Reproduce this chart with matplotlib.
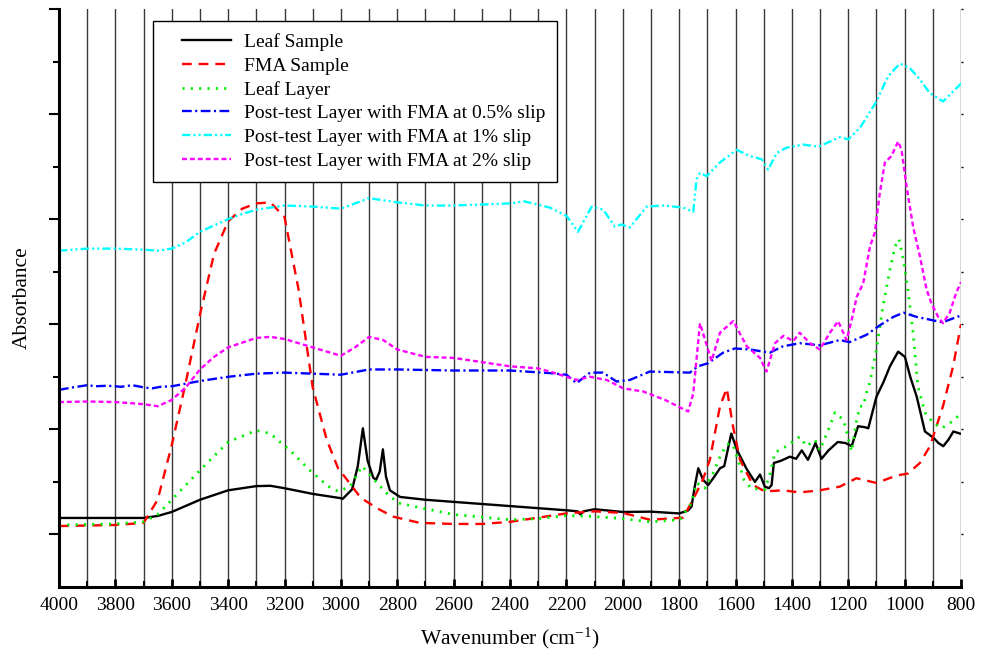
import matplotlib
matplotlib.use("Agg")
import matplotlib.pyplot as plt
from matplotlib.ticker import MultipleLocator, NullFormatter
from matplotlib.legend_handler import HandlerLine2D
from matplotlib.lines import Line2D

plt.rcParams['font.family'] = ['Liberation Serif', 'DejaVu Serif']
plt.rcParams['mathtext.default'] = 'regular'
plt.rcParams['lines.scale_dashes'] = False

# ---------------- data ----------------
leaf_x = [4000, 3900, 3800, 3700, 3650, 3600, 3500, 3400, 3300, 3250, 3200, 3100, 3000, 2993, 2960, 2940,
          2922, 2905, 2885, 2875, 2862, 2851, 2840, 2826, 2790, 2700, 2600, 2400, 2200, 2160, 2150, 2140,
          2100, 2000, 1900, 1800, 1769, 1756, 1745, 1732, 1715, 1697, 1675, 1655, 1640, 1615, 1594, 1560,
          1531, 1513, 1496, 1481, 1472, 1464, 1440, 1407, 1385, 1365, 1343, 1316, 1295, 1270, 1237, 1210,
          1188, 1165, 1140, 1129, 1100, 1075, 1052, 1023, 999, 980, 957, 928, 898, 880, 863, 845, 827, 804]
leaf_y = [0.657, 0.657, 0.657, 0.657, 0.676, 0.714, 0.83, 0.92, 0.96, 0.963, 0.94, 0.886, 0.845, 0.84, 0.93, 1.15,
          1.51, 1.2, 1.04, 1.02, 1.1, 1.31, 1.05, 0.92, 0.857, 0.83, 0.81, 0.77, 0.73, 0.72, 0.69, 0.72,
          0.74, 0.714, 0.717, 0.70, 0.727, 0.765, 0.95, 1.13, 1.02, 0.97, 1.05, 1.13, 1.15, 1.46, 1.30, 1.12,
          1.00, 1.07, 0.955, 0.94, 0.97, 1.18, 1.2, 1.24, 1.22, 1.30, 1.21, 1.37, 1.22, 1.3, 1.38, 1.37,
          1.34, 1.53, 1.52, 1.51, 1.81, 1.95, 2.10, 2.24, 2.19, 2.0, 1.81, 1.48, 1.42, 1.37, 1.34, 1.40, 1.48, 1.46]

fma_x = [4000, 3900, 3800, 3700, 3650, 3600, 3550, 3500, 3450, 3400, 3350, 3300, 3250, 3200, 3150, 3100,
         3050, 3010, 2978, 2930, 2872, 2815, 2720, 2600, 2500, 2400, 2300, 2200, 2100, 2000, 1903, 1786,
         1751, 1716, 1691, 1655, 1631, 1609, 1584, 1538, 1496, 1432, 1372, 1301, 1230, 1171, 1100, 1029,
         988, 946, 910, 864, 828, 800]
fma_y = [0.58, 0.585, 0.59, 0.61, 0.83, 1.35, 1.95, 2.59, 3.17, 3.48, 3.60, 3.65, 3.66, 3.52, 2.83, 1.90,
         1.40, 1.13, 1.02, 0.85, 0.75, 0.67, 0.61, 0.60, 0.60, 0.62, 0.66, 0.70, 0.72, 0.705, 0.64, 0.66,
         0.83, 1.02, 1.21, 1.72, 1.89, 1.53, 1.21, 0.97, 0.91, 0.92, 0.90, 0.92, 0.955, 1.035, 0.99, 1.06,
         1.08, 1.18, 1.34, 1.72, 2.10, 2.50]

layer_x = [4000, 3900, 3800, 3700, 3650, 3600, 3500, 3400, 3300, 3250, 3216, 3180, 3110, 3046, 3010, 2968,
           2940, 2925, 2904, 2872, 2833, 2797, 2720, 2600, 2400, 2300, 2200, 2100, 2000, 1903, 1797, 1756,
           1738, 1709, 1680, 1655, 1630, 1610, 1590, 1570, 1545, 1515, 1495, 1475, 1460, 1419, 1372, 1348,
           1318, 1301, 1270, 1247, 1217, 1188, 1170, 1158, 1147, 1135, 1123, 1100, 1077, 1052, 1034, 1020,
           1004, 987, 970, 953, 928, 898, 869, 839, 804]
layer_y = [0.59, 0.595, 0.60, 0.62, 0.69, 0.83, 1.11, 1.38, 1.49, 1.46, 1.38, 1.30, 1.11, 0.96, 0.91, 0.955,
           1.08, 1.15, 1.09, 0.99, 0.88, 0.80, 0.755, 0.69, 0.64, 0.65, 0.68, 0.67, 0.65, 0.62, 0.64, 0.80,
           0.99, 0.94, 1.08, 1.24, 1.36, 1.36, 1.2, 1.02, 0.94, 0.93, 0.93, 1.1, 1.28, 1.34, 1.43, 1.34,
           1.40, 1.30, 1.5, 1.66, 1.59, 1.29, 1.59, 1.72, 1.72, 1.85, 1.95, 2.26, 2.67, 3.02, 3.24, 3.31,
           3.11, 2.80, 2.42, 1.91, 1.66, 1.56, 1.51, 1.56, 1.64]

s05_x = [4000, 3950, 3900, 3870, 3830, 3800, 3780, 3740, 3700, 3670, 3640, 3600, 3500, 3400, 3300, 3200,
         3100, 3000, 2900, 2800, 2600, 2400, 2258, 2200, 2164, 2116, 2070, 2022, 1975, 1904, 1762, 1733,
         1697, 1644, 1602, 1549, 1478, 1432, 1372, 1301, 1230, 1195, 1135, 1088, 1040, 1004, 957, 886,
         864, 804]
s05_y = [1.876, 1.90, 1.92, 1.91, 1.915, 1.91, 1.905, 1.92, 1.90, 1.89, 1.905, 1.91, 1.96, 2.0, 2.03, 2.04,
         2.03, 2.02, 2.07, 2.07, 2.06, 2.06, 2.035, 2.02, 1.94, 2.04, 2.04, 1.955, 1.97, 2.05, 2.04, 2.10,
         2.13, 2.23, 2.27, 2.26, 2.23, 2.29, 2.32, 2.30, 2.35, 2.33, 2.40, 2.49, 2.57, 2.61, 2.57, 2.53,
         2.52, 2.58]

s1_x = [4000, 3900, 3800, 3700, 3650, 3600, 3550, 3500, 3400, 3350, 3300, 3200, 3100, 3000, 2950, 2900,
        2850, 2800, 2700, 2600, 2500, 2400, 2350, 2258, 2199, 2159, 2110, 2069, 2028, 2004, 1975, 1915,
        1856, 1785, 1750, 1738, 1726, 1702, 1655, 1596, 1549, 1507, 1484, 1454, 1419, 1360, 1306, 1230,
        1200, 1158, 1100, 1059, 1017, 982, 946, 911, 864, 811, 800]
s1_y = [3.20, 3.22, 3.22, 3.21, 3.20, 3.22, 3.28, 3.38, 3.50, 3.55, 3.59, 3.63, 3.62, 3.60, 3.65, 3.70,
        3.68, 3.66, 3.63, 3.63, 3.64, 3.65, 3.67, 3.61, 3.53, 3.38, 3.62, 3.59, 3.43, 3.45, 3.42, 3.62,
        3.63, 3.61, 3.57, 3.88, 3.94, 3.91, 4.04, 4.16, 4.10, 4.07, 3.97, 4.13, 4.18, 4.21, 4.19, 4.28,
        4.26, 4.37, 4.62, 4.86, 4.98, 4.94, 4.83, 4.70, 4.62, 4.76, 4.79]

s2_x = [4000, 3900, 3800, 3700, 3650, 3600, 3550, 3500, 3450, 3400, 3300, 3250, 3200, 3100, 3000, 2950,
        2900, 2850, 2800, 2700, 2600, 2500, 2400, 2300, 2258, 2164, 2116, 2057, 1998, 1927, 1850, 1768,
        1750, 1726, 1685, 1655, 1608, 1560, 1513, 1490, 1460, 1430, 1395, 1372, 1336, 1301, 1265, 1236,
        1206, 1188, 1170, 1147, 1123, 1106, 1088, 1070, 1047, 1023, 1011, 993, 970, 946, 922, 905,
        881, 864, 840, 817, 800]
s2_y = [1.76, 1.765, 1.76, 1.74, 1.72, 1.78, 1.90, 2.07, 2.19, 2.28, 2.37, 2.38, 2.36, 2.28, 2.20, 2.28,
        2.38, 2.35, 2.26, 2.19, 2.18, 2.14, 2.10, 2.08, 2.05, 1.97, 2.00, 1.97, 1.89, 1.86, 1.78, 1.67,
        1.84, 2.51, 2.15, 2.42, 2.53, 2.29, 2.18, 2.05, 2.32, 2.39, 2.34, 2.42, 2.32, 2.26, 2.42, 2.53,
        2.35, 2.54, 2.76, 2.89, 3.24, 3.37, 3.75, 4.04, 4.10, 4.24, 4.16, 3.81, 3.43, 3.15, 2.83, 2.70,
        2.57, 2.51, 2.61, 2.80, 2.90]

labels = ["Leaf Sample", "FMA Sample", "Leaf Layer",
          "Post-test Layer with FMA at 0.5% slip",
          "Post-test Layer with FMA at 1% slip",
          "Post-test Layer with FMA at 2% slip"]

# ---------------- figure ----------------
fig = plt.figure(figsize=(9.87, 6.5), dpi=100)
ax = fig.add_axes([59/987, 1-587/650, (961-59)/987, (587-9)/650])

for xv in range(800, 4001, 100):
    ax.axvline(xv, color='#3a3a3a', lw=1.0, zorder=0)

lw = 1.7
ax.plot(leaf_x, leaf_y, color='black', lw=lw, label=labels[0])
ax.plot(fma_x, fma_y, color='#ff0000', lw=lw, dashes=(7, 5), label=labels[1])
ax.plot(layer_x, layer_y, color='#00ee00', lw=lw + 0.3, dashes=(1.5, 4.5), label=labels[2])
ax.plot(s05_x, s05_y, color='#0000ff', lw=lw, dashes=(7, 2.5, 1.5, 2.5), label=labels[3])
ax.plot(s1_x, s1_y, color='#00ffff', lw=lw, dashes=(6, 2.2, 1.5, 2.2, 1.5, 2.2), label=labels[4])
ax.plot(s2_x, s2_y, color='#ff00ff', lw=lw, dashes=(3.5, 2.2), label=labels[5])

ax.set_xlim(4000, 800)
ax.set_ylim(0, 5.5)

ax.xaxis.set_major_locator(MultipleLocator(200))
ax.xaxis.set_minor_locator(MultipleLocator(100))
ax.set_yticks([0.5, 1.5, 2.5, 3.5, 4.5, 5.5])
ax.set_yticks([1, 2, 3, 4, 5], minor=True)
ax.yaxis.set_major_formatter(NullFormatter())

ax.tick_params(axis='x', which='major', direction='in', length=6, width=2, labelsize=14, pad=7)
ax.tick_params(axis='x', which='minor', direction='in', length=4, width=1.5)
ax.tick_params(axis='y', which='major', direction='out', length=7, width=1.5)
ax.tick_params(axis='y', which='minor', direction='out', length=4.5, width=1.5)

sec = ax.secondary_yaxis('right')
sec.set_yticks([0.5, 1, 1.5, 2, 2.5, 3, 3.5, 4, 4.5, 5, 5.5])
sec.yaxis.set_major_formatter(NullFormatter())
sec.tick_params(direction='out', length=1.5, width=1)
sec.spines['right'].set_visible(False)

ax.spines['top'].set_visible(False)
ax.spines['right'].set_visible(False)
ax.spines['left'].set_linewidth(2.2)
ax.spines['bottom'].set_linewidth(2.2)

ax.set_xlabel("Wavenumber (cm$^{-1}$)", fontsize=15.5, labelpad=9)
ax.set_ylabel("Absorbance", fontsize=15.5, labelpad=9)

leg = ax.legend(loc='upper left', bbox_to_anchor=(0.104, 0.979), fontsize=14,
                frameon=True, fancybox=False, edgecolor='black', framealpha=1,
                handlelength=3.4, handletextpad=0.65, labelspacing=0.31,
                borderpad=0.62, borderaxespad=0,
                handler_map={Line2D: HandlerLine2D(xpad=0.9)})
leg.get_frame().set_linewidth(1.0)

fig.savefig("out.png", dpi=100)
